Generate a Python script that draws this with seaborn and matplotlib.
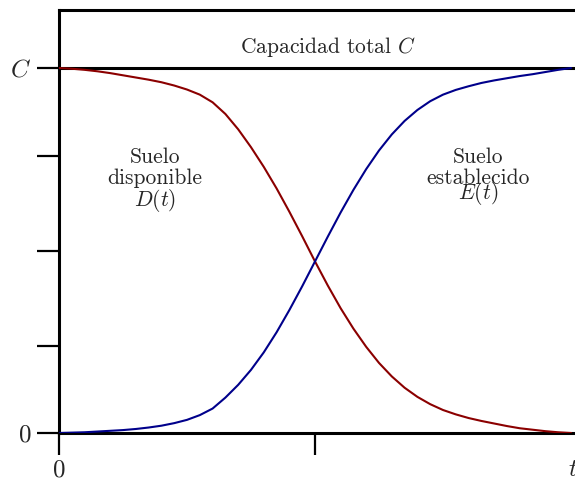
import matplotlib
matplotlib.use("Agg")
import matplotlib.pyplot as plt
import seaborn as sns
import pandas as pd

# Data (t in units where middle tick = 1, C = 1)
t_vals = [0.00, 0.05, 0.10, 0.15, 0.20, 0.25, 0.30, 0.35, 0.40, 0.45, 0.50, 0.55, 0.60,
          0.65, 0.70, 0.75, 0.80, 0.85, 0.90, 0.95, 1.00, 1.05, 1.10, 1.15, 1.20, 1.25,
          1.30, 1.35, 1.40, 1.45, 1.50, 1.55, 1.60, 1.65, 1.70, 1.75, 1.80, 1.85, 1.90,
          1.95, 2.00]
disponible = [1.000, 0.998, 0.995, 0.991, 0.986, 0.980, 0.974, 0.968, 0.961, 0.952, 0.941,
              0.927, 0.906, 0.874, 0.832, 0.783, 0.729, 0.670, 0.606, 0.539, 0.470, 0.404,
              0.342, 0.286, 0.236, 0.192, 0.155, 0.124, 0.099, 0.079, 0.063, 0.051, 0.041,
              0.033, 0.026, 0.019, 0.013, 0.009, 0.005, 0.002, 0.000]
establecido = [0.000, 0.001, 0.002, 0.004, 0.006, 0.008, 0.011, 0.015, 0.020, 0.027, 0.036,
               0.049, 0.067, 0.097, 0.132, 0.173, 0.221, 0.276, 0.337, 0.402, 0.470, 0.538,
               0.604, 0.666, 0.723, 0.774, 0.818, 0.855, 0.885, 0.909, 0.927, 0.940, 0.950,
               0.959, 0.966, 0.972, 0.978, 0.983, 0.989, 0.995, 1.000]
ytick_vals = [0.0, 0.238, 0.499, 0.759, 1.0]
ytick_labels = ["0", "", "", "", "$C$"]
xtick_vals = [0.0, 1.0]
xtick_labels = ["0", ""]

sns.set_style("ticks")
plt.rcParams["font.family"] = ["cmr10", "DejaVu Serif"]
plt.rcParams["mathtext.fontset"] = "cm"
plt.rcParams["axes.formatter.use_mathtext"] = True

df = pd.DataFrame({"t": t_vals + t_vals,
                   "v": disponible + establecido,
                   "serie": ["D"] * len(t_vals) + ["E"] * len(t_vals)})

fig = plt.figure(figsize=(5.75, 4.8), dpi=100)
ax = fig.add_axes([59 / 575, 47 / 480, 1 - 59 / 575, (433 - 10) / 480])

ax.axhline(1.0, color="black", lw=2.2, zorder=1)
sns.lineplot(data=df, x="t", y="v", hue="serie",
             palette={"D": "#8b0000", "E": "#00008b"},
             linewidth=1.5, legend=False, ax=ax, zorder=3)

ax.set_xlim(0, (575 - 59) / 256)
ax.set_ylim(0, (433 - 10) / 365)
ax.set_xticks(xtick_vals)
ax.set_xticklabels(xtick_labels)
ax.set_yticks(ytick_vals)
ax.set_yticklabels(ytick_labels)
ax.set_xlabel("")
ax.set_ylabel("")
ax.tick_params(axis="both", length=16, width=1.6, color="black", labelsize=18,
               direction="out")
ax.tick_params(axis="y", pad=4)
ax.tick_params(axis="x", pad=3)
for s in ["left", "bottom", "top"]:
    ax.spines[s].set_linewidth(2.2)
    ax.spines[s].set_color("black")
ax.spines["right"].set_visible(False)

fs = 15.5
ax.text(1.05, 1.058, "Capacidad total $C$", ha="center", va="center", fontsize=fs)
ax.text(0.375, 0.756, "Suelo", ha="center", va="center", fontsize=fs)
ax.text(0.375, 0.697, "disponible", ha="center", va="center", fontsize=fs)
ax.text(0.375, 0.636, "$D(t)$", ha="center", va="center", fontsize=fs)
ax.text(1.637, 0.756, "Suelo", ha="center", va="center", fontsize=fs)
ax.text(1.637, 0.697, "establecido", ha="center", va="center", fontsize=fs)
ax.text(1.637, 0.655, "$E(t)$", ha="center", va="center", fontsize=fs)
ax.text(1.99, -0.10, "$t$", ha="left", va="center", fontsize=18, clip_on=False)

fig.savefig("out.png", dpi=100)
